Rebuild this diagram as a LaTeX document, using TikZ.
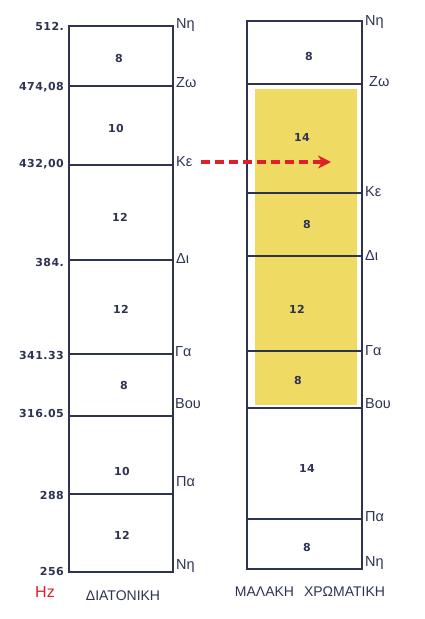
\documentclass[tikz,border=0pt]{standalone}
\usepackage{fontspec}
\setmainfont{Liberation Sans}
\newfontfamily\numfont[LetterSpace=4]{DejaVu Sans}
\usepackage{xcolor}
\definecolor{inkBlue}{HTML}{2E3352}
\definecolor{chromaYellow}{HTML}{EFDA63}
\definecolor{markRed}{HTML}{DE1F2C}
\usetikzlibrary{arrows.meta,positioning}
\tikzset{
    % outline of a tetrachord column
    column/.style={draw=inkBlue, line width=1.2pt},
    % line between two degrees
    divider/.style={draw=inkBlue, line width=1.1pt},
    % frequency on the left
    freq/.style={font=\numfont\fontsize{11}{13}\selectfont\bfseries, text=inkBlue, anchor=east, inner sep=1pt},
    % degree name on the right
    degree/.style={font=\fontsize{14.5}{16}\selectfont, text=inkBlue, anchor=west, inner sep=1pt},
    % size of an interval (in moria)
    interval/.style={font=\numfont\fontsize{11}{13}\selectfont\bfseries, text=inkBlue, inner sep=1pt},
    % genus name below a column
    genus/.style={font=\fontsize{14}{16}\selectfont, text=inkBlue, inner sep=1pt},
    % red dashed pointer
    arrow/.style={-{Stealth[length=13pt, width=13pt]}, draw=markRed, line width=3.4pt,
        dash pattern=on 9pt off 5pt},
}

\begin{document}
\begin{tikzpicture}[x=1pt, y=-1pt]
    \useasboundingbox (0,0) rectangle (425,619);

    % diatonic column
    \draw[column] (69,26) rectangle (173,572);
    \foreach \y in {86,165,260,354,416,494}
        \draw[divider] (69,\y) -- (173,\y);

    \node (f512) [freq] at (65,26) {512.};
    \node (f474) [freq] at (65,87) {474,08};
    \node (f432) [freq] at (65,164) {432,00};
    \node (f384) [freq] at (65,262) {384.};
    \node (f341) [freq] at (65,355) {341.33};
    \node (f316) [freq] at (65,413) {316.05};
    \node (f288) [freq] at (65,495) {288};
    \node (f256) [freq] at (65,571) {256};

    \node (dNiHigh) [degree] at (175,25) {Νη};
    \node (dZo) [degree] at (175,83) {Ζω};
    \node (dKe) [degree] at (175,162) {Κε};
    \node (dDi) [degree] at (175,259) {Δι};
    \node (dGa) [degree] at (174,352) {Γα};
    \node (dVou) [degree] at (174,404) {Βου};
    \node (dPa) [degree] at (175,482) {Πα};
    \node (dNiLow) [degree] at (175,566) {Νη};

    \node (d1) [interval] at (119,58) {8};
    \node (d2) [interval] at (116,128) {10};
    \node (d3) [interval] at (120,217) {12};
    \node (d4) [interval] at (121,309) {12};
    \node (d5) [interval] at (124,385) {8};
    \node (d6) [interval] at (122,471) {10};
    \node (d7) [interval] at (122,535) {12};

    \node (hz) [font=\fontsize{16}{18}\selectfont, text=markRed] at (45,592) {Hz};
    \node (diatonic) [genus] at (123,596) {ΔΙΑΤΟΝΙΚΗ};

    % soft chromatic column
    \fill[chromaYellow] (255,89) rectangle (357,405);
    \draw[column] (247,21) rectangle (362,569);
    \foreach \y in {84,193,256,351,408,519}
        \draw[divider] (247,\y) -- (362,\y);

    \node (cNiHigh) [degree] at (364,22) {Νη};
    \node (cZo) [degree] at (368,82) {Ζω};
    \node (cKe) [degree] at (364,192) {Κε};
    \node (cDi) [degree] at (364,256) {Δι};
    \node (cGa) [degree] at (364,351) {Γα};
    \node (cVou) [degree] at (364,404) {Βου};
    \node (cPa) [degree] at (364,517) {Πα};
    \node (cNiLow) [degree] at (364,563) {Νη};

    \node (c1) [interval] at (309,56) {8};
    \node (c2) [interval] at (302,137) {14};
    \node (c3) [interval] at (307,224) {8};
    \node (c4) [interval] at (297,309) {12};
    \node (c5) [interval] at (298,380) {8};
    \node (c6) [interval] at (307,468) {14};
    \node (c7) [interval] at (307,547) {8};

    \node (chromatic) [genus] at (310,592) {ΜΑΛΑΚΗ\hspace{10pt}ΧΡΩΜΑΤΙΚΗ};

    \coordinate (arrowTip) at (331,162);
    \draw [arrow] (dKe.east) ++(7pt,0) -- (arrowTip);
\end{tikzpicture}
\end{document}
